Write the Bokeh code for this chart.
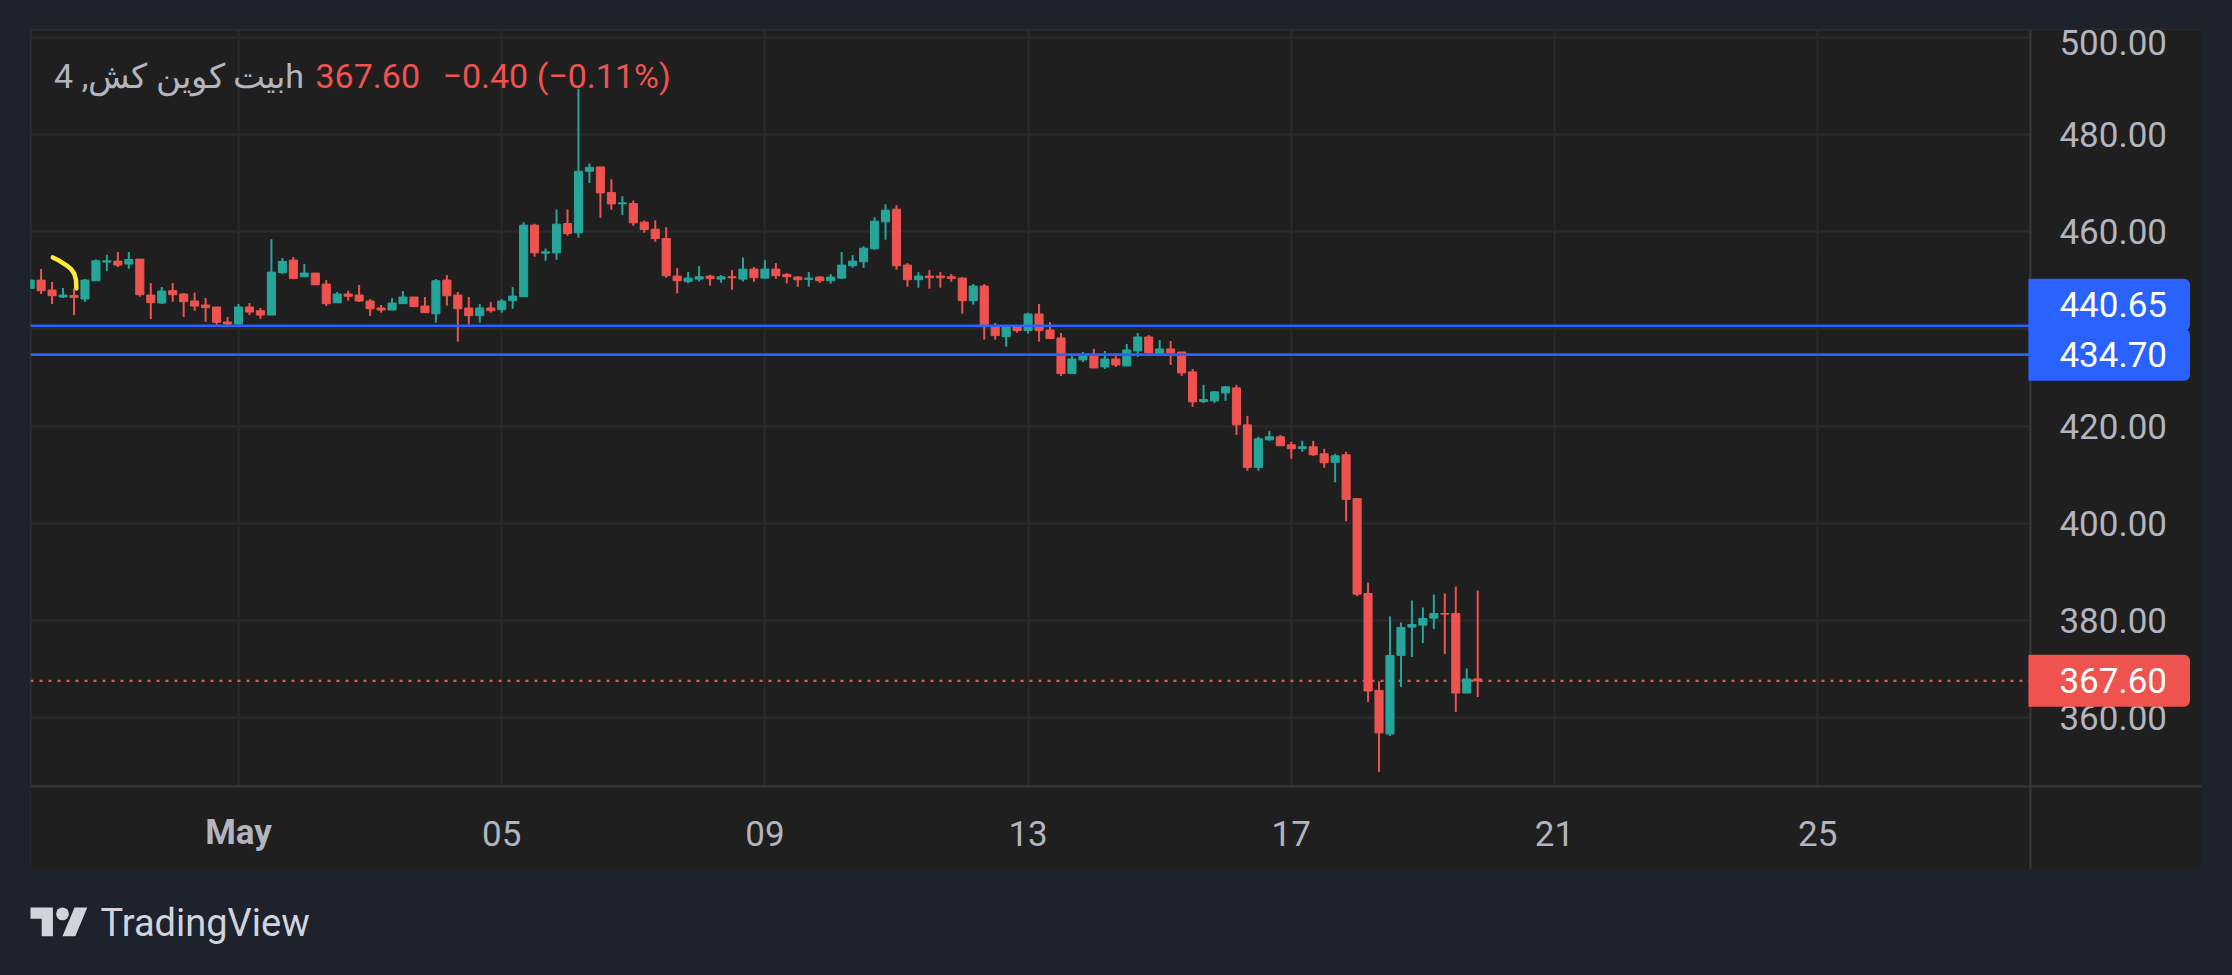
import numpy as np
import pandas as pd
from bokeh.plotting import figure
from bokeh.layouts import column
from bokeh.models import (ColumnDataSource, Range1d, FixedTicker, NumeralTickFormatter,
                          Label, Span, AllLabels)
from bokeh.embed import file_html
from bokeh.resources import INLINE

# ---------------- data ----------------
symbol_title = "بيت كوين كش, 4h"
last_price_text = "367.60"
change_text = "\u22120.40 (\u22120.11%)"

bar_start = "2024-04-27 20:00"   # first visible 4h candle
bar_hours = 4

opens = [448.33, 450.04, 447.99, 446.55, 446.89, 446.14, 449.90, 453.74, 453.94, 453.33,
         454.35, 446.96, 445.32, 447.85, 447.16, 445.73, 444.91, 444.50, 441.42, 441.00,
         444.50, 443.74, 442.85, 451.55, 454.15, 450.72, 451.48, 449.22, 445.39, 447.16,
         446.96, 445.73, 444.29, 443.88, 445.18, 446.55, 444.70, 443.13, 450.04, 446.96,
         444.29, 442.72, 444.29, 443.95, 445.80, 446.62, 461.33, 455.58, 455.65, 461.67,
         459.76, 472.42, 473.31, 468.04, 465.71, 465.78, 461.95, 460.51, 458.60, 450.86,
         449.77, 450.24, 450.86, 450.24, 450.72, 450.24, 452.30, 450.45, 452.30, 451.20,
         450.66, 450.18, 450.66, 449.90, 450.45, 452.98, 453.80, 456.47, 462.02, 464.62,
         453.12, 450.11, 450.86, 450.86, 450.72, 450.45, 445.80, 448.81, 440.46, 438.40,
         440.53, 439.64, 443.06, 439.77, 438.13, 430.80, 433.61, 434.43, 432.17, 433.81,
         432.38, 435.46, 438.33, 434.84, 435.87, 435.25, 431.15, 425.05, 425.19, 426.83,
         427.86, 420.26, 411.50, 417.18, 417.80, 416.16, 415.40, 415.75, 414.31, 412.54,
         414.11, 405.08, 385.57, 365.65, 356.68, 372.84, 378.66, 379.07, 380.50, 381.46,
         381.46, 365.10, 368.00]
highs = [450.18, 452.30, 449.63, 448.40, 448.33, 450.25, 454.28, 455.24, 455.79, 455.79,
         454.35, 449.42, 448.60, 449.42, 447.37, 447.44, 446.34, 444.50, 442.44, 445.11,
         445.32, 444.29, 458.46, 454.56, 454.76, 453.33, 451.48, 450.04, 447.58, 447.85,
         449.01, 446.14, 444.91, 446.34, 447.78, 446.55, 446.55, 450.25, 451.07, 447.58,
         446.55, 445.11, 445.52, 446.14, 448.60, 461.95, 461.61, 456.54, 464.55, 464.55,
         489.40, 474.00, 473.31, 470.78, 467.29, 466.40, 462.29, 462.29, 460.92, 452.50,
         451.68, 452.91, 451.13, 451.07, 452.09, 454.69, 452.71, 454.14, 453.53, 451.48,
         450.86, 451.68, 450.86, 451.27, 455.79, 455.17, 457.02, 462.98, 465.65, 465.44,
         453.53, 451.68, 452.09, 451.68, 451.27, 450.66, 449.22, 449.22, 441.21, 440.80,
         440.80, 443.33, 445.11, 441.42, 439.15, 434.84, 435.25, 435.87, 435.46, 434.43,
         436.90, 439.15, 438.74, 437.72, 437.51, 435.25, 431.76, 428.48, 427.24, 428.27,
         428.48, 422.11, 417.80, 419.03, 418.21, 416.77, 416.98, 416.98, 415.34, 414.32,
         414.73, 405.08, 387.83, 367.50, 380.84, 379.61, 384.13, 382.69, 385.36, 385.57,
         387.01, 370.17, 386.18]
lows = [448.19, 447.16, 445.11, 446.34, 442.85, 445.59, 449.83, 451.89, 452.71, 452.37,
        446.62, 442.03, 445.11, 445.59, 442.44, 443.74, 441.48, 440.73, 440.73, 441.00,
        442.85, 442.03, 442.85, 451.34, 450.18, 450.72, 449.08, 444.70, 445.39, 445.80,
        445.52, 442.65, 443.33, 443.88, 445.18, 444.56, 443.33, 441.28, 444.77, 437.38,
        440.87, 441.28, 443.33, 443.33, 444.15, 446.62, 454.83, 454.01, 454.21, 459.14,
        458.73, 470.03, 462.84, 464.48, 463.45, 461.20, 459.76, 457.91, 450.52, 447.30,
        449.36, 449.77, 448.88, 449.49, 448.05, 449.77, 449.70, 450.31, 450.31, 449.36,
        448.67, 448.67, 449.49, 449.29, 450.24, 452.57, 452.57, 456.27, 458.32, 452.16,
        448.67, 448.47, 448.26, 448.47, 449.70, 443.13, 444.97, 437.79, 437.79, 436.35,
        439.22, 439.02, 437.38, 437.99, 430.32, 430.80, 433.20, 431.97, 431.76, 432.17,
        432.38, 434.23, 434.64, 434.64, 432.58, 430.32, 423.96, 424.78, 424.78, 425.19,
        418.21, 410.82, 410.82, 416.98, 415.95, 413.28, 414.72, 413.90, 411.43, 408.43,
        400.42, 385.02, 363.26, 348.88, 356.27, 366.34, 372.50, 375.37, 378.24, 373.11,
        361.20, 365.10, 364.28]
closes = [450.04, 447.85, 446.82, 446.96, 446.48, 450.04, 454.01, 454.01, 453.12, 454.28,
          447.03, 445.39, 447.78, 447.03, 445.59, 444.70, 444.36, 441.35, 441.00, 444.50,
          443.47, 442.85, 451.68, 453.87, 450.38, 451.48, 449.08, 445.18, 447.16, 446.69,
          445.73, 444.15, 443.88, 445.32, 446.55, 444.56, 443.33, 449.90, 446.82, 444.15,
          442.72, 444.29, 443.74, 445.73, 446.75, 461.33, 455.65, 455.86, 461.54, 459.62,
          472.42, 473.24, 467.97, 465.71, 465.92, 461.81, 460.44, 458.60, 450.93, 449.90,
          450.45, 450.72, 450.38, 450.72, 450.52, 452.30, 450.52, 452.30, 450.93, 450.72,
          450.11, 450.45, 449.90, 450.66, 453.12, 453.94, 456.61, 462.15, 464.41, 452.98,
          450.11, 450.86, 450.52, 450.52, 450.38, 445.80, 448.81, 440.46, 438.61, 440.53,
          439.64, 443.06, 439.64, 437.99, 430.80, 433.81, 434.43, 431.97, 433.81, 432.58,
          435.66, 438.33, 435.05, 435.87, 435.05, 430.94, 424.99, 425.46, 427.04, 428.07,
          420.26, 411.50, 417.39, 417.80, 415.95, 415.34, 415.75, 414.10, 412.46, 413.90,
          404.94, 385.43, 365.51, 356.89, 372.84, 378.59, 379.20, 380.43, 381.46, 381.32,
          365.10, 368.00, 367.60]

level_lines = [440.65, 434.70]
last_price = 367.60

price_ticks = [360, 380, 400, 420, 440, 460, 480, 500]
date_ticks = ["2024-05-01", "2024-05-05", "2024-05-09", "2024-05-13",
              "2024-05-17", "2024-05-21", "2024-05-25"]
date_labels = ["May", "05", "09", "13", "17", "21", "25"]

# hand-drawn yellow stroke (hours from 1 May, price)
drawing_hours = [-67.75, -65.33, -62.90, -61.08, -59.86, -59.26, -59.14]
drawing_prices = [454.69, 454.01, 453.12, 452.30, 451.27, 450.04, 448.33]

# visible window (hours from 1 May / prices)
anchor = "2024-05-01"
view_start_hours = -75.87     # left edge of the chart pane
plot_end_hours = 653.6        # right edge of the price pane (price scale begins)
pane_end_hours = 716.0        # right edge of the price scale
price_min, price_max = 345.87, 501.58
pane_min_price = 328.80       # bottom edge of the time scale strip

# ---------------- styling ----------------
UP = "#26a69a"
DOWN = "#ef5350"
BLUE = "#2962ff"
PAGE_BG = "#1e222d"
CHART_BG = "#1f1f1f"
GRID = "#2a2a2a"
SEP = "#363636"
TXT = "#b2b5be"
FONT = "Roboto"

HOUR_MS = 3600 * 1000.0


def ms(ts):
    return pd.Timestamp(ts).value / 1e6


t0 = ms(bar_start)
n = len(opens)
times = [t0 + i * bar_hours * HOUR_MS for i in range(n)]
anchor_ms = ms(anchor)
x_start = anchor_ms + view_start_hours * HOUR_MS
x_plot_end = anchor_ms + plot_end_hours * HOUR_MS
x_end = anchor_ms + pane_end_hours * HOUR_MS

colors = [UP if c >= o else DOWN for o, c in zip(opens, closes)]
src = ColumnDataSource(dict(
    t=times, o=opens, h=highs, l=lows, c=closes,
    top=[max(o, c) for o, c in zip(opens, closes)],
    bottom=[min(o, c) for o, c in zip(opens, closes)],
    color=colors,
))

p = figure(x_axis_type="datetime", y_axis_location="right",
           frame_width=2171, frame_height=840,
           x_range=Range1d(x_start, x_end), y_range=Range1d(pane_min_price, price_max),
           output_backend="svg", toolbar_location=None, title=None,
           background_fill_color=CHART_BG, border_fill_color=CHART_BG)
p.min_border = 0
p.min_border_left = 0
p.min_border_top = 0
p.min_border_right = 0
p.min_border_bottom = 0
p.outline_line_color = "#2c2f38"
p.outline_line_width = 2
p.margin = (29, 0, 0, 30)

# grid
p.xgrid.ticker = FixedTicker(ticks=[ms(d) for d in date_ticks])
p.ygrid.ticker = FixedTicker(ticks=price_ticks)
p.grid.grid_line_color = GRID
p.grid.grid_line_width = 2.3

# masks so the grid stays inside the price pane
p.quad(left=[x_plot_end], right=[x_end], bottom=[pane_min_price], top=[price_max],
       fill_color=CHART_BG, line_color=None)
p.quad(left=[x_start], right=[x_end], bottom=[pane_min_price], top=[price_min],
       fill_color=CHART_BG, line_color=None)

# separators between the pane and the scales
p.add_layout(Span(location=x_plot_end, dimension="height", line_color=SEP, line_width=2.3))
p.add_layout(Span(location=price_min, dimension="width", line_color=SEP, line_width=2.3))

# x axis (time scale)
xa = p.xaxis[0]
xa.fixed_location = price_min
xa.ticker = FixedTicker(ticks=[ms(d) for d in date_ticks])
overrides = {ms(d): lbl for d, lbl in zip(date_ticks, date_labels)}
overrides[ms(date_ticks[0])] = ""   # month label drawn bold below
xa.major_label_overrides = overrides
xa.major_label_policy = AllLabels()
xa.axis_line_color = None
xa.major_tick_out = 0
xa.major_tick_in = 0
xa.minor_tick_in = 0
xa.minor_tick_out = 0
xa.major_label_standoff = 34
xa.major_label_text_font = FONT
xa.major_label_text_font_size = "35px"
xa.major_label_text_color = TXT

# y axis (price scale)
ya = p.yaxis[0]
ya.fixed_location = x_plot_end
ya.ticker = FixedTicker(ticks=price_ticks)
ya.formatter = NumeralTickFormatter(format="0.00")
ya.major_label_policy = AllLabels()
ya.axis_line_color = None
ya.major_tick_out = 0
ya.major_tick_in = 0
ya.minor_tick_in = 0
ya.minor_tick_out = 0
ya.major_label_standoff = 29
ya.major_label_text_font = FONT
ya.major_label_text_font_size = "35px"
ya.major_label_text_color = TXT

# last price dotted line (under candles)
p.segment(x0=[x_start], x1=[x_plot_end], y0=[last_price], y1=[last_price],
          line_color=DOWN, line_width=2.3, line_dash="3 6")

# candles
p.segment(x0="t", y0="l", x1="t", y1="h", line_color="color", line_width=2, source=src)
p.vbar(x="t", width=bar_hours * HOUR_MS * 0.74, top="top", bottom="bottom",
       fill_color="color", line_color="color", line_width=1, source=src)

# horizontal level lines
p.segment(x0=[x_start] * len(level_lines), x1=[x_plot_end] * len(level_lines),
          y0=level_lines, y1=level_lines, line_color=BLUE, line_width=2.6)

# yellow drawing
p.line(x=[anchor_ms + h * HOUR_MS for h in drawing_hours], y=drawing_prices,
       line_color="#ffeb3b", line_width=4.5, line_cap="round", line_join="round")

# legend text
legend_y = 793.5
p.add_layout(Label(x=23.6, y=legend_y, x_units="screen", y_units="screen", text=symbol_title,
                   text_font=FONT, text_font_size="34px", text_color=TXT,
                   text_baseline="alphabetic", text_align="left"))
p.add_layout(Label(x=285, y=legend_y, x_units="screen", y_units="screen", text=last_price_text,
                   text_font=FONT, text_font_size="34px", text_color=DOWN,
                   text_baseline="alphabetic", text_align="left"))
p.add_layout(Label(x=412, y=legend_y, x_units="screen", y_units="screen", text=change_text,
                   text_font=FONT, text_font_size="34px", text_color=DOWN,
                   text_baseline="alphabetic", text_align="left"))

# bold month label on the time scale
p.add_layout(Label(x=ms(date_ticks[0]), y=37, x_units="data", y_units="screen",
                   text=date_labels[0], text_font=FONT, text_font_size="35px",
                   text_font_style="bold", text_color=TXT,
                   text_align="center", text_baseline="middle"))

# price tags on the scale
box_pad = dict(left=31, right=23, top=13, bottom=14)
box_rad = dict(top_left=0, top_right=6, bottom_right=6, bottom_left=0)
for lvl, off in zip(level_lines, [21, 0]):
    p.add_layout(Label(x=x_plot_end, y=lvl, x_units="data", y_units="data", text=f"{lvl:.2f}",
                       x_offset=-2, y_offset=off, text_font=FONT, text_font_size="35px",
                       text_color="#ffffff", text_align="left", text_baseline="middle",
                       background_fill_color=BLUE, padding=box_pad, border_radius=box_rad))
p.add_layout(Label(x=x_plot_end, y=last_price, x_units="data", y_units="data",
                   text=f"{last_price:.2f}",
                   x_offset=-2, y_offset=0, text_font=FONT, text_font_size="35px",
                   text_color="#ffffff", text_align="left", text_baseline="middle",
                   background_fill_color=DOWN, padding=box_pad, border_radius=box_rad))

# ---------------- TradingView logo ----------------
LOGO_T = ([0, 14, 14, 7, 7, 0], [4, 4, 22, 22, 11, 11])
LOGO_SLASH = ([28, 20, 27.5, 35.5], [22, 22, 4, 4])
LOGO_DOT = (20, 8, 4)
s, ox, oy = 1.6, 10, 48

logo = figure(width=300, height=60, x_range=Range1d(0, 300), y_range=Range1d(0, 60),
              output_backend="svg", toolbar_location=None, title=None,
              x_axis_location=None, y_axis_location=None,
              background_fill_color=PAGE_BG, border_fill_color=PAGE_BG,
              outline_line_color=None, min_border=0)
logo.grid.visible = False
logo.margin = (26, 0, 0, 20)
LOGO_C = "#d1d4dc"
logo.patch([ox + s * u for u in LOGO_T[0]], [oy - s * (v - 4) for v in LOGO_T[1]],
           fill_color=LOGO_C, line_color=None)
logo.patch([ox + s * u for u in LOGO_SLASH[0]], [oy - s * (v - 4) for v in LOGO_SLASH[1]],
           fill_color=LOGO_C, line_color=None)
logo.circle(x=[ox + s * LOGO_DOT[0]], y=[oy - s * (LOGO_DOT[1] - 4)], radius=s * LOGO_DOT[2],
            fill_color=LOGO_C, line_color=None)
logo.add_layout(Label(x=80, y=33, text="TradingView", text_font=FONT, text_font_size="38px",
                      text_color=LOGO_C, text_baseline="alphabetic", text_align="left"))

layout = column(p, logo)

html = file_html(layout, INLINE, title="chart")
html = html.replace("</head>", "<style>html,body{background:%s;}</style></head>" % PAGE_BG, 1)
with open("out.html", "w") as f:
    f.write(html)
